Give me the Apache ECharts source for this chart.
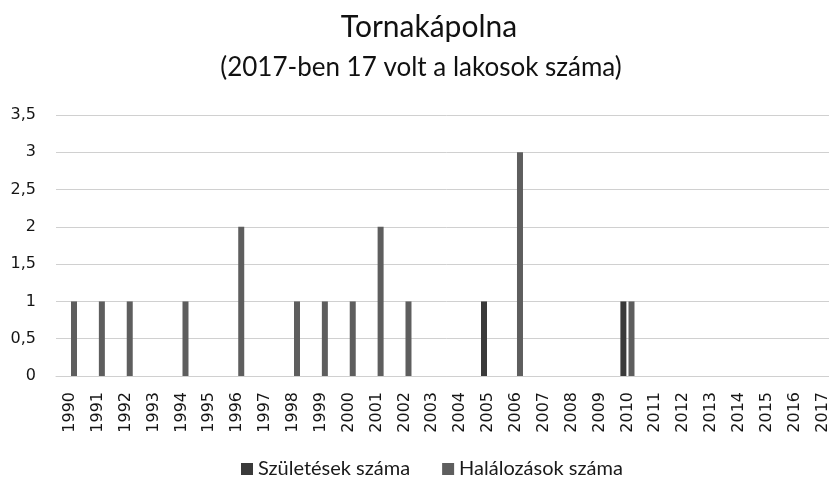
<!DOCTYPE html>
<html>
<head>
<meta charset="utf-8">
<script src="https://cdn.jsdelivr.net/npm/echarts@6/dist/echarts.min.js"></script>
<style>
html,body{margin:0;padding:0;background:#fff;overflow:hidden;width:829px;height:480px;}
#chart{width:840px;height:480px;}
</style>
</head>
<body>
<div id="chart"></div>
<script>
var years = ['1990','1991','1992','1993','1994','1995','1996','1997','1998','1999','2000','2001','2002','2003','2004','2005','2006','2007','2008','2009','2010','2011','2012','2013','2014','2015','2016','2017'];
var births = [0,0,0,0,0,0,0,0,0,0,0,0,0,0,0,1,0,0,0,0,1,0,0,0,0,0,0,0];
var deaths = [1,1,1,0,1,0,2,0,1,1,1,2,1,0,0,0,3,0,0,0,1,0,0,0,0,0,0,0];
var seriesNames = ['Születések száma','Halálozások száma'];
var titleText = 'Tornakápolna';
var subtitleText = '(2017-ben 17 volt a lakosok száma)';

var chart = echarts.init(document.getElementById('chart'), null, {renderer:'canvas'});
var font = 'Lato, "Open Sans", sans-serif';
var axisFont = '"DejaVu Sans", Verdana, sans-serif';
chart.setOption({
  backgroundColor:'#fff',
  animation:false,
  graphic:[
    {type:'text', x:429, y:27, style:{text:titleText, align:'center', textAlign:'center', verticalAlign:'middle', textVerticalAlign:'middle', fontFamily:font, fontSize:30, fill:'#111'}},
    {type:'text', x:421, y:68, style:{text:subtitleText, align:'center', textAlign:'center', verticalAlign:'middle', textVerticalAlign:'middle', fontFamily:font, fontSize:26, fill:'#111'}}
  ],
  legend:{
    data:seriesNames, top:454, left:236, itemWidth:12, itemHeight:12, itemGap:32, icon:'rect',
    textStyle:{fontFamily:font, fontSize:20, color:'#1a1a1a'}
  },
  grid:{left:56, top:115, width:780.5, height:261, containLabel:false},
  xAxis:{
    type:'category', data:years, boundaryGap:true,
    axisLine:{lineStyle:{color:'#d0d0d0', width:1}},
    axisTick:{show:false},
    axisLabel:{rotate:90, interval:0, fontFamily:axisFont, fontSize:16, color:'#151515', margin:16}
  },
  yAxis:{
    type:'value', min:0, max:3.5, interval:0.5,
    axisLine:{show:false}, axisTick:{show:false},
    splitLine:{lineStyle:{color:'#d0d0d0', width:1}},
    axisLabel:{fontFamily:axisFont, fontSize:16, color:'#151515', margin:20,
      formatter:function(v){return String(v).replace('.',',');}}
  },
  series:[
    {name:seriesNames[0], type:'bar', data:births, barWidth:6, barGap:'35%', itemStyle:{color:'#3a3a3a'}},
    {name:seriesNames[1], type:'bar', data:deaths, barWidth:6, itemStyle:{color:'#5e5e5e'}}
  ]
});
</script>
</body>
</html>
